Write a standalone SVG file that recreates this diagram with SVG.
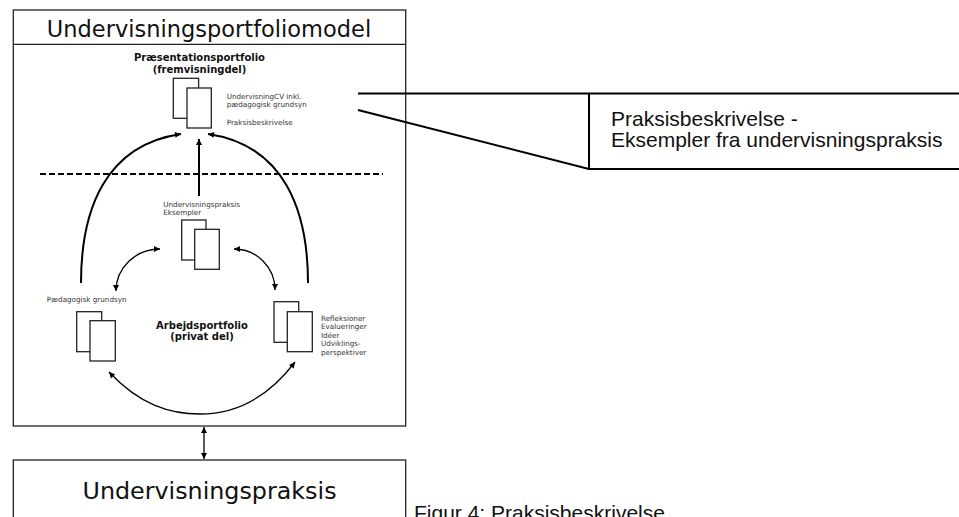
<svg xmlns="http://www.w3.org/2000/svg" width="959" height="517" viewBox="0 0 959 517">
<style>
.box{fill:#fff;stroke:#222;stroke-width:1.3}
.doc{fill:#fff;stroke:#222;stroke-width:1.3}
.sm{font-family:"DejaVu Sans",Verdana,sans-serif;font-size:7.2px;fill:#333}
.bd{font-family:"DejaVu Sans",Verdana,sans-serif;font-size:10px;font-weight:bold;fill:#111;text-anchor:middle}
.big{font-family:"DejaVu Sans",Verdana,sans-serif;fill:#111;text-anchor:middle}
.ar{font-family:"Liberation Sans",Arial,sans-serif;fill:#111}
.thick{fill:none;stroke:#000;stroke-width:2}
.thin{fill:none;stroke:#000;stroke-width:1.3}
</style>
<defs>
<marker id="ah" viewBox="0 0 10 10" refX="10" refY="5" markerWidth="7" markerHeight="6" markerUnits="userSpaceOnUse" orient="auto-start-reverse">
<path d="M0,0 L10,5 L0,10 z" fill="#000"/>
</marker>
</defs>
<rect width="959" height="517" fill="#fff"/>

<g id="model-box">
<rect class="box" x="13.3" y="10" width="392.4" height="416"/>
<line x1="13.3" y1="44.3" x2="405.7" y2="44.3" stroke="#222" stroke-width="1.3"/>
<text class="big" x="209" y="36.7" font-size="22.5">Undervisningsportfoliomodel</text>
</g>

<g id="praxis-box">
<rect class="box" x="13.3" y="460" width="392.4" height="80"/>
<text class="big" x="209.5" y="499.3" font-size="23.8">Undervisningspraksis</text>
</g>

<g id="presentation">
<text class="bd" x="199.5" y="61.3">Præsentationsportfolio</text>
<text class="bd" x="199.5" y="72.5">(fremvisningdel)</text>
<rect class="doc" x="173.3" y="78.3" width="25.3" height="40"/>
<rect class="doc" x="187" y="88" width="24.3" height="40"/>
<text class="sm" x="226.7" y="99.3">UndervisningCV inkl.</text>
<text class="sm" x="226.7" y="107">pædagogisk grundsyn</text>
<text class="sm" x="226.7" y="125.3">Praksisbeskrivelse</text>
</g>

<g id="examples">
<text class="sm" x="163.3" y="206.6">Undervisningspraksis</text>
<text class="sm" x="163.3" y="215.3">Eksempler</text>
<rect class="doc" x="181.7" y="220" width="24.3" height="40"/>
<rect class="doc" x="194.7" y="229.3" width="24.6" height="40"/>
</g>

<g id="grundsyn">
<text class="sm" x="46.7" y="301.6">Pædagogisk grundsyn</text>
<rect class="doc" x="76.7" y="311.7" width="25" height="40"/>
<rect class="doc" x="90" y="320.7" width="25.3" height="40.3"/>
</g>

<g id="refleksioner">
<rect class="doc" x="274" y="301.7" width="24.7" height="40.6"/>
<rect class="doc" x="287.3" y="311.7" width="25" height="40"/>
<text class="sm" x="321" y="320.5">Refleksioner</text>
<text class="sm" x="321" y="329.1">Evalueringer</text>
<text class="sm" x="321" y="337.7">Idéer</text>
<text class="sm" x="321" y="346.3">Udviklings-</text>
<text class="sm" x="321" y="354.9">perspektiver</text>
</g>

<g id="arbejdsportfolio">
<text class="bd" x="202" y="329">Arbejdsportfolio</text>
<text class="bd" x="202" y="340">(privat del)</text>
</g>

<g id="callout">
<path d="M358,93.5 H965 M589,93.5 V169 H965" fill="none" stroke="#000" stroke-width="2"/>
<line x1="358" y1="110" x2="589" y2="169" stroke="#000" stroke-width="2"/>
<text class="ar" x="611" y="125.5" font-size="21">Praksisbeskrivelse -</text>
<text class="ar" x="611" y="147" font-size="21">Eksempler fra undervisningspraksis</text>
</g>

<g id="caption">
<text class="ar" x="414" y="520" font-size="21">Figur 4: Praksisbeskrivelse</text>
</g>

<g id="connectors">
<line x1="40" y1="174" x2="383" y2="174" stroke="#000" stroke-width="2" stroke-dasharray="6,3"/>
<path class="thick" d="M81,283 C81,210 105,145 181,134" marker-end="url(#ah)"/>
<path class="thick" d="M308,283 C308,210 284,145 208,134" marker-end="url(#ah)"/>
<path class="thick" d="M199,196 V139" marker-end="url(#ah)"/>
<path class="thin" d="M116,291 A44,42 0 0 1 160,249" marker-start="url(#ah)" marker-end="url(#ah)"/>
<path class="thin" d="M234,249 A41,41 0 0 1 275,290" marker-start="url(#ah)" marker-end="url(#ah)"/>
<path class="thin" d="M109,372 C140,405 170,414 200,414 C240,414 270,395 295,362" marker-start="url(#ah)" marker-end="url(#ah)"/>
<path class="thin" d="M204,427 V459" marker-start="url(#ah)" marker-end="url(#ah)"/>
</g>
</svg>
